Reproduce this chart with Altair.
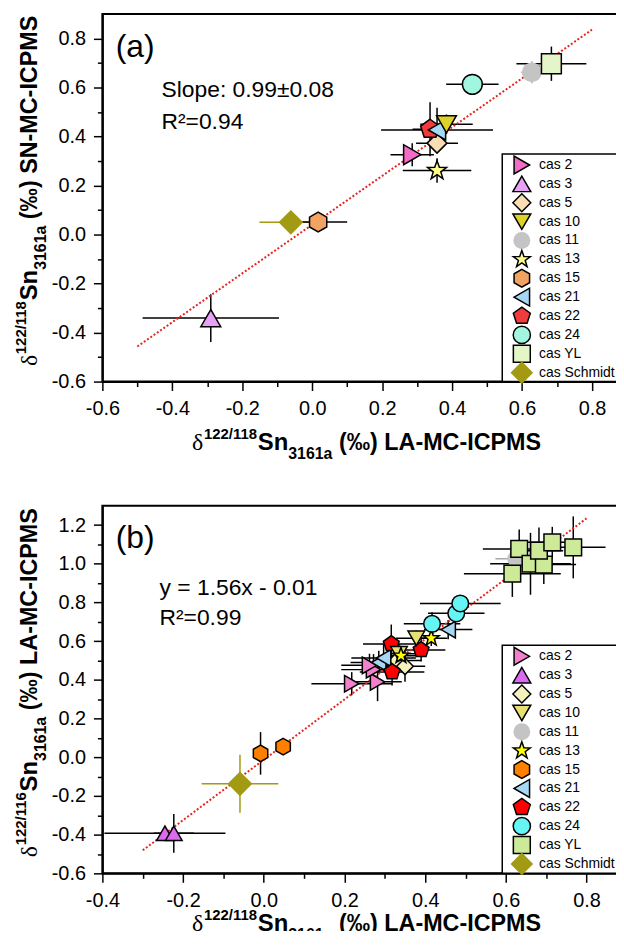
import altair as alt
import pandas as pd

# ---------------- categories / styling lists ----------------
CATS = ["cas 2", "cas 3", "cas 5", "cas 10", "cas 11", "cas 13", "cas 15",
        "cas 21", "cas 22", "cas 24", "cas YL", "cas Schmidt"]


def _poly(pts):
    return "M" + " L".join(f"{x:.3f},{y:.3f}" for x, y in pts) + " Z"


HEX = _poly([(0, -1), (0.866, -0.5), (0.866, 0.5), (0, 1), (-0.866, 0.5), (-0.866, -0.5)])
PENT = _poly([(0, -1), (0.951, -0.309), (0.588, 0.809), (-0.588, 0.809), (-0.951, -0.309)])
STAR = _poly([(0, -1), (0.235, -0.324), (0.951, -0.309), (0.380, 0.124), (0.588, 0.809),
              (0, 0.4), (-0.588, 0.809), (-0.380, 0.124), (-0.951, -0.309), (-0.235, -0.324)])

SHAPES = ["triangle-right", "triangle-up", "diamond", "triangle-down", "circle", STAR,
          HEX, "triangle-left", PENT, "circle", "square", "diamond"]
STROKES = ["black"] * 4 + ["transparent"] + ["black"] * 6 + ["transparent"]
LEG_SIZES = [324, 324, 324, 324, 290, 324, 324, 324, 324, 300, 290, 520]

FILLS_A = ["#F26BC6", "#E6A3F5", "#F9DDB5", "#DDD22A", "#C4C4C4", "#FFFF88",
           "#F2A261", "#A6D8F5", "#F03C3C", "#A2F5DE", "#E4F5C8", "#A29A12"]
FILLS_B = ["#F280CC", "#DC6AF0", "#F6F2BE", "#E8E070", "#C4C4C4", "#FFFF00",
           "#FF8000", "#A6D8F5", "#FF0000", "#66F5F5", "#CCEA98", "#A29A12"]

# ---------------- panel (a) data ----------------
A_CAT = ["cas 3", "cas Schmidt", "cas 15", "cas 2", "cas 13", "cas 5", "cas 22",
         "cas 21", "cas 10", "cas 24", "cas 11", "cas YL"]
A_X = [-0.290, -0.061, 0.017, 0.286, 0.357, 0.357, 0.337, 0.357, 0.384, 0.458, 0.628, 0.684]
A_Y = [-0.341, 0.050, 0.051, 0.326, 0.261, 0.373, 0.430, 0.427, 0.450, 0.613, 0.662, 0.697]
A_XERR = [0.195, 0.090, 0.083, 0.062, 0.098, 0.060, 0.050, 0.160, 0.075, 0.075, 0.030, 0.100]
A_YERR = [0.097, 0.000, 0.020, 0.047, 0.050, 0.030, 0.110, 0.090, 0.040, 0.040, 0.045, 0.070]
A_FIT_X = [-0.50, 0.80]
A_FIT_Y = [-0.457, 0.836]

# ---------------- panel (b) data ----------------
B_CAT = ["cas 3", "cas 3", "cas Schmidt", "cas 15", "cas 15", "cas 11",
         "cas YL", "cas YL", "cas YL", "cas YL", "cas YL", "cas YL", "cas YL",
         "cas 2", "cas 2", "cas 2", "cas 2", "cas 5", "cas 5",
         "cas 21", "cas 21", "cas 21", "cas 22", "cas 22", "cas 22",
         "cas 10", "cas 10", "cas 13", "cas 13", "cas 24", "cas 24", "cas 24"]
B_X = [-0.245, -0.223, -0.059, -0.008, 0.048, 0.624,
       0.616, 0.633, 0.661, 0.694, 0.682, 0.715, 0.767,
       0.218, 0.282, 0.272, 0.262, 0.330, 0.350,
       0.285, 0.297, 0.457, 0.318, 0.316, 0.390,
       0.335, 0.378, 0.340, 0.415, 0.417, 0.477, 0.487]
B_Y = [-0.393, -0.393, -0.137, 0.020, 0.055, 1.026,
       0.949, 1.077, 1.000, 0.996, 1.068, 1.111, 1.085,
       0.380, 0.390, 0.453, 0.475, 0.500, 0.470,
       0.490, 0.513, 0.660, 0.441, 0.586, 0.555,
       0.535, 0.615, 0.525, 0.615, 0.690, 0.744, 0.795]
B_XERR = [0.150, 0.050, 0.095, 0.010, 0.010, 0.050,
          0.120, 0.090, 0.100, 0.080, 0.060, 0.070, 0.080,
          0.100, 0.060, 0.080, 0.070, 0.060, 0.050,
          0.070, 0.080, 0.060, 0.080, 0.070, 0.060,
          0.040, 0.050, 0.040, 0.040, 0.070, 0.070, 0.100]
B_YERR = [0.020, 0.100, 0.150, 0.110, 0.030, 0.080,
          0.120, 0.100, 0.160, 0.100, 0.120, 0.080, 0.160,
          0.060, 0.100, 0.080, 0.060, 0.060, 0.080,
          0.060, 0.070, 0.050, 0.070, 0.100, 0.060,
          0.050, 0.040, 0.040, 0.040, 0.060, 0.040, 0.030]
B_FIT_X = [-0.30, 0.80]
B_FIT_Y = [-0.481, 1.235]

ERR_COL = {"cas 11": "#A8A8A8", "cas Schmidt": "#A29A12"}

# ---------------- layout constants ----------------
W, H = 528, 370
SANS = "Liberation Sans"
SERIF = "Liberation Serif"

BOLD_W = {" ": 278, "(": 333, ")": 333, "-": 333, "/": 278, "A": 722, "C": 722, "I": 278,
          "L": 611, "M": 833, "N": 722, "P": 667, "S": 667, "a": 556, "n": 611, "‰": 1000}


def width(s, size, serif=False):
    if serif:
        return 0.5 * size * len(s)
    return sum(BOLD_W.get(c, 556) for c in s) / 1000.0 * size


def one_text(txt, x, y, size, weight="normal", font=SANS, angle=0, baseline="alphabetic"):
    kw = dict(align="left", baseline=baseline, font=font, fontSize=size,
              fontWeight=weight, color="black")
    if angle:
        kw["angle"] = angle
    return alt.Chart(pd.DataFrame({"t": [txt]})).mark_text(**kw).encode(
        text="t:N", x=alt.value(x), y=alt.value(y))


def title_layers(pieces, center, base, vertical=False):
    # pieces: (text, font, size, weight, baseline shift, gap before)
    total = sum(width(t, s, f == SERIF) + g for t, f, s, w, sh, g in pieces)
    out = []
    cum = 0.0
    for t, f, s, w, sh, g in pieces:
        cum += g
        if vertical:
            out.append(one_text(t, base + sh, center + total / 2 - cum, s, w, f, angle=270))
        else:
            out.append(one_text(t, center - total / 2 + cum, base + sh, s, w, f))
        cum += width(t, s, f == SERIF)
    return out


def pieces(ratio, tail):
    return [("δ", SERIF, 24, "normal", 0, 0), (ratio, SANS, 15, "bold", -11, 0),
            ("Sn", SANS, 24, "bold", 0, 0), ("3161a", SANS, 16, "bold", 9, 0),
            (tail, SANS, 23.5, "bold", 0, 6.5)]


def legend_layers(fills, top):
    out = [alt.Chart(pd.DataFrame({"k": [0]})).mark_rect(
        fill="white", stroke="black", strokeWidth=1.5).encode(
        x=alt.value(402.5), x2=alt.value(W), y=alt.value(top), y2=alt.value(H))]
    for i, c in enumerate(CATS):
        yy = top + 11 + 19 * i
        out.append(alt.Chart(pd.DataFrame({"t": [c]})).mark_point(
            filled=True, opacity=1, shape=SHAPES[i], size=LEG_SIZES[i], fill=fills[i],
            stroke=STROKES[i], strokeWidth=1.5).encode(
            x=alt.value(422.2), y=alt.value(yy)))
        out.append(one_text(c, 439.5, yy, 14, baseline="middle"))
    return out


def make_axis(vals):
    even = "abs(round(datum.value*10)) % 2 == 0"
    return alt.Axis(
        values=vals, title=None, grid=False,
        labelExpr=f"{even} ? replace(format(datum.value, '.1f'), '\u2212', '-') : ''",
        tickSize={"condition": {"test": even, "value": 9}, "value": 5},
        tickWidth=1.5, tickColor="black", domainColor="black", domainWidth=2,
        labelFont=SANS, labelFontSize=20, labelColor="black", labelPadding=8,
        labelOverlap=False, labelFlush=False, labelBound=False)


def panel(cats, xs, ys, xe, ye, fills, fitx, fity, xdom, ydom, xvals, yvals,
          letter, eq, r2, eq_pos, yratio, ytail, legend_top, msize, xtitle_base):
    df = pd.DataFrame({"cat": cats, "x": xs, "y": ys, "xe": xe, "ye": ye})
    df["xlo"] = df.x - df.xe
    df["xhi"] = df.x + df.xe
    df["ylo"] = df.y - df.ye
    df["yhi"] = df.y + df.ye
    df["ecol"] = [ERR_COL.get(c, "black") for c in cats]
    df["ord"] = range(len(df))

    xsc = alt.Scale(domain=xdom, nice=False, zero=False)
    ysc = alt.Scale(domain=ydom, nice=False, zero=False)
    X = alt.X("x:Q", scale=xsc, axis=make_axis(xvals))
    Y = alt.Y("y:Q", scale=ysc, axis=make_axis(yvals))

    base = alt.Chart(df)
    hb = base.mark_rule(strokeWidth=1.5).encode(
        x=alt.X("xlo:Q", scale=xsc, axis=make_axis(xvals)), x2="xhi:Q", y=Y,
        color=alt.Color("ecol:N", scale=None))
    vb = base.mark_rule(strokeWidth=1.5).encode(
        x=X, y=alt.Y("ylo:Q", scale=ysc, axis=make_axis(yvals)), y2="yhi:Q",
        color=alt.Color("ecol:N", scale=None))

    enc = dict(
        x=X, y=Y,
        fill=alt.Fill("cat:N", scale=alt.Scale(domain=CATS, range=fills), legend=None),
        shape=alt.Shape("cat:N", scale=alt.Scale(domain=CATS, range=SHAPES), legend=None),
        stroke=alt.Stroke("cat:N", scale=alt.Scale(domain=CATS, range=STROKES), legend=None),
        order=alt.Order("ord:Q"))
    pts = base.transform_filter("datum.cat != 'cas Schmidt'").mark_point(
        filled=True, opacity=1, strokeWidth=1.5, size=msize).encode(**enc)
    big = base.transform_filter("datum.cat == 'cas Schmidt'").mark_point(
        filled=True, opacity=1, strokeWidth=1.5, size=620).encode(**enc)

    fit = alt.Chart(pd.DataFrame({"fx": fitx, "fy": fity})).mark_line(
        color="#E3261F", strokeDash=[2, 2], strokeWidth=2).encode(
        x=alt.X("fx:Q", scale=xsc, axis=make_axis(xvals)),
        y=alt.Y("fy:Q", scale=ysc, axis=make_axis(yvals)))

    texts = [one_text(letter, 13.5, 43, 32),
             one_text(eq, eq_pos[0], eq_pos[1], 23),
             one_text(r2, eq_pos[0], eq_pos[2], 23)]
    texts += title_layers(pieces("122/118", "(‰) LA-MC-ICPMS"), W / 2 + 2, xtitle_base)
    texts += title_layers(pieces(yratio, ytail), H / 2 - 7, -66, vertical=True)
    texts += legend_layers(fills, legend_top)

    return alt.layer(hb, vb, fit, big, pts, *texts).properties(width=W, height=H)


pa = panel(A_CAT, A_X, A_Y, A_XERR, A_YERR, FILLS_A, A_FIT_X, A_FIT_Y,
           [-0.6, 0.9], [-0.6, 0.9],
           [round(-0.6 + 0.1 * i, 1) for i in range(15)],
           [round(-0.6 + 0.1 * i, 1) for i in range(15)],
           "(a)", "Slope: 0.99±0.08", "R²=0.94", (59.5, 84, 116),
           "122/118", "(‰) SN-MC-ICPMS", 141, 400, H + 69)

pb = panel(B_CAT, B_X, B_Y, B_XERR, B_YERR, FILLS_B, B_FIT_X, B_FIT_Y,
           [-0.4, 0.9], [-0.6, 1.3],
           [round(-0.4 + 0.1 * i, 1) for i in range(13)],
           [round(-0.6 + 0.1 * i, 1) for i in range(19)],
           "(b)", "y = 1.56x - 0.01", "R²=0.99", (57.5, 89.5, 120.5),
           "122/116", "(‰) LA-MC-ICPMS", 140.5, 280, H + 58)

chart = alt.vconcat(pa, pb, spacing=42).resolve_scale(
    fill="independent", shape="independent", stroke="independent"
).properties(
    padding={"left": 5, "top": 2, "right": -13, "bottom": -16}
).configure_view(stroke="black", strokeWidth=2)

chart.save("out.html", embed_options={"renderer": "svg", "actions": False})
